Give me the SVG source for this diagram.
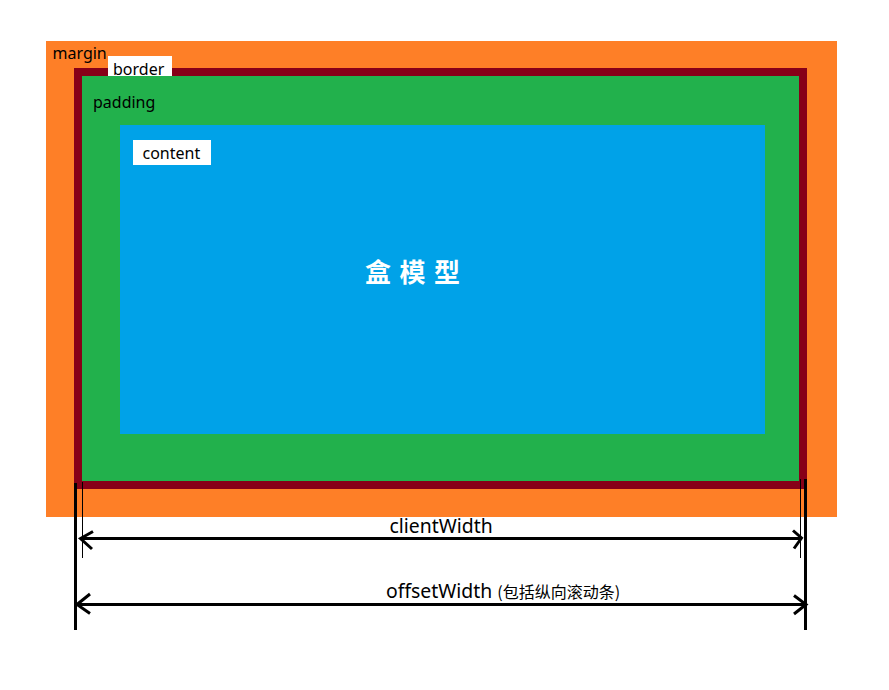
<svg xmlns="http://www.w3.org/2000/svg" width="889" height="690" viewBox="0 0 889 690">
<style>
.lbl{font-family:"Noto Sans","Open Sans","Noto Sans CJK SC",sans-serif;font-size:16px;fill:#000}
.big{font-family:"Noto Sans","Open Sans","Noto Sans CJK SC",sans-serif;font-size:19.4px;fill:#000}
.cjk{font-family:"Noto Sans CJK SC","Noto Sans",sans-serif;font-size:16px;fill:#000}
.title{font-family:"Noto Sans CJK SC",sans-serif;font-size:26px;font-weight:bold;fill:#fff;letter-spacing:8.5px}
.thick{stroke:#000;stroke-width:3;fill:none}
.thin{stroke:#000;stroke-width:1;fill:none}
.head{stroke:#000;stroke-width:3;fill:none;stroke-linejoin:miter}
</style>
<rect width="889" height="690" fill="#fff"/>
<g id="margin">
<rect x="46" y="41" width="791" height="476" fill="#fe7f27"/>
<text class="lbl" x="52.5" y="59">margin</text>
</g>
<g id="border">
<rect x="74" y="68" width="733" height="421" fill="#870018"/>
<rect x="108" y="56" width="64" height="27" fill="#fff"/>
<text class="lbl" x="113" y="75">border</text>
</g>
<g id="padding">
<rect x="82" y="76" width="717" height="405" fill="#22b14c"/>
<text class="lbl" x="93" y="108">padding</text>
</g>
<g id="content">
<rect x="120" y="125" width="645" height="309" fill="#00a2e8"/>
<rect x="133" y="140" width="78" height="25" fill="#fff"/>
<text class="lbl" x="142.5" y="159">content</text>
<text class="title" x="365" y="282">盒模型</text>
</g>
<g id="connectors">
<line class="thick" x1="75.5" y1="483" x2="75.5" y2="630"/>
<line class="thick" x1="805.5" y1="479" x2="805.5" y2="630"/>
<line class="thin" x1="82.5" y1="482" x2="82.5" y2="558"/>
<line class="thin" x1="800.5" y1="479" x2="800.5" y2="558"/>
<line class="thick" x1="80" y1="538.5" x2="802" y2="538.5"/>
<path class="head" d="M93,531.5 L80.5,538.5 L92,549"/>
<path class="head" d="M793,530.5 L801.5,538 L794,548.5"/>
<line class="thick" x1="77" y1="604.5" x2="806" y2="604.5"/>
<path class="head" d="M90,594 L77,604.5 L90,613.5"/>
<path class="head" d="M794,595.5 L806,604.5 L794,614"/>
</g>
<g id="labels">
<text class="big" x="389.5" y="533">clientWidth</text>
<text class="big" x="386" y="598">offsetWidth <tspan class="cjk">(包括纵向滚动条)</tspan></text>
</g>
</svg>
